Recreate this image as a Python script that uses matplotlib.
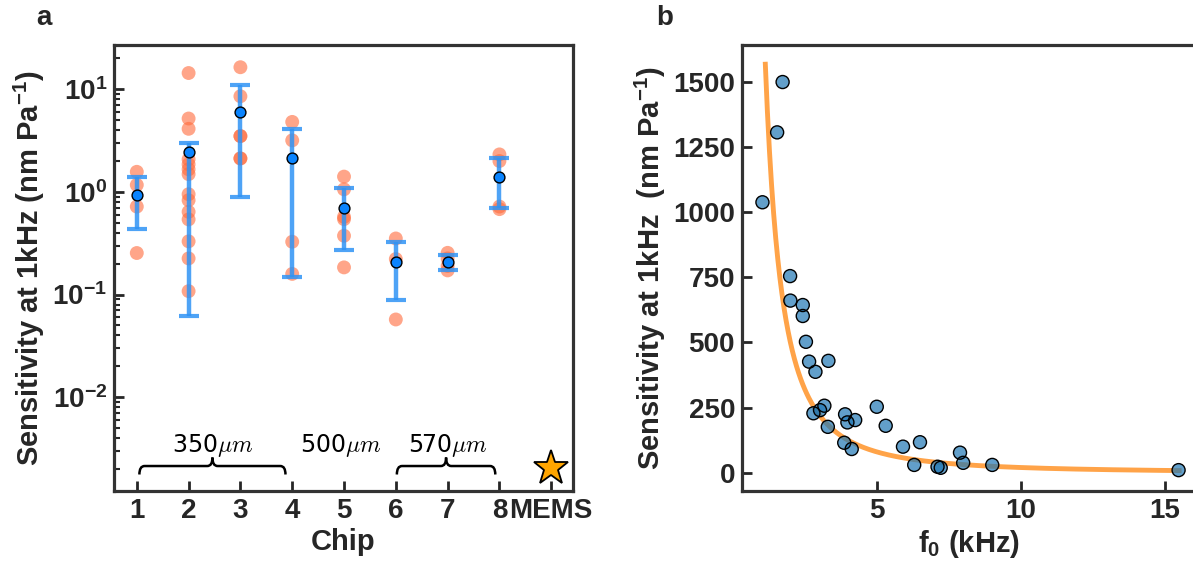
import matplotlib
matplotlib.use('Agg')
import matplotlib.pyplot as plt
from matplotlib.path import Path
from matplotlib.patches import PathPatch
import numpy as np

# ---- panel a: sensitivity per chip ----
chip_points = {
    1: [1.57, 1.17, 0.72, 0.254],
    2: [14.4, 5.19, 4.12, 2.08, 1.86, 1.66, 1.49, 0.95, 0.83, 0.64, 0.54, 0.33, 0.225, 0.108],
    3: [16.4, 8.55, 3.5, 3.5, 2.12, 2.12],
    4: [4.81, 3.18, 0.327, 0.159],
    5: [1.41, 1.06, 0.572, 0.543, 0.374, 0.184],
    6: [0.352, 0.222, 0.0572],
    7: [0.255, 0.225, 0.19, 0.172],
    8: [2.32, 2.0, 0.72, 0.68],
}
chips = [1, 2, 3, 4, 5, 6, 7, 8]
chip_mean = [0.93, 2.46, 6.02, 2.12, 0.69, 0.209, 0.209, 1.40]
err_low = [0.434, 0.0615, 0.887, 0.149, 0.273, 0.089, 0.174, 0.69]
err_high = [1.41, 2.99, 11.1, 4.09, 1.10, 0.327, 0.243, 2.12]
mems_x = 9
mems_value = 0.00204
xtick_labels = ['1', '2', '3', '4', '5', '6', '7', '8', 'MEMS']

# ---- panel b: sensitivity vs resonance frequency ----
f0 = [1.73, 1.54, 1.03, 1.99, 2.0, 2.43, 2.43, 2.54, 2.65, 2.87, 3.32, 3.18,
      3.03, 2.80, 3.30, 3.90, 3.98, 4.25, 3.87, 4.13, 5.0, 5.31, 5.91, 6.50,
      6.30, 7.11, 7.22, 7.89, 8.00, 9.01, 15.48]
sens = [1498, 1305, 1037, 754, 660, 643, 601, 502, 426, 387, 429, 257,
        240, 228, 176, 224, 193, 202, 115, 91, 253, 180, 100, 117,
        30, 23, 19, 77, 38, 30, 10]
fit_coef = 2000.0   # S = fit_coef / f0**fit_exp
fit_exp = 2.0
fit_range = (1.13, 15.5)

dark = '#262626'
plt.rcParams['font.family'] = ['Liberation Sans', 'DejaVu Sans']
plt.rcParams['font.weight'] = 'bold'
plt.rcParams['font.size'] = 20
plt.rcParams['mathtext.default'] = 'regular'
plt.rcParams['text.color'] = dark
plt.rcParams['axes.labelcolor'] = dark
plt.rcParams['axes.labelweight'] = 'bold'
plt.rcParams['xtick.color'] = dark
plt.rcParams['ytick.color'] = dark

fig = plt.figure(figsize=(11.93, 5.65), dpi=100)
W, H = 1193., 565.
ax1 = fig.add_axes([114 / W, (H - 491) / H, 459 / W, 446 / H])
ax2 = fig.add_axes([742 / W, (H - 491) / H, 453 / W, 446 / H])

for ax in (ax1, ax2):
    for sp in ax.spines.values():
        sp.set_linewidth(2.3)
        sp.set_color('#333333')
    ax.tick_params(which='major', direction='in', length=7.5, width=2, labelsize=20, pad=5)
    ax.tick_params(which='minor', direction='in', length=4.5, width=1.5)

# panel a
for c in chips:
    pts = chip_points[c]
    ax1.scatter([c] * len(pts), pts, s=100, color='#FF6A3A', alpha=0.6,
                edgecolors='none', zorder=1)
yerr = [np.array(chip_mean) - np.array(err_low), np.array(err_high) - np.array(chip_mean)]
ax1.errorbar(chips, chip_mean, yerr=yerr, fmt='none', ecolor='#2F93F5', alpha=0.85,
             elinewidth=3.2, capsize=7, capthick=3, zorder=2)
ax1.plot(chips, chip_mean, 'o', ms=7.8, color='#0A84FF', mec='black', mew=1.0,
         ls='none', zorder=3)
ax1.plot([mems_x], [mems_value], '*', ms=26, color='#FFA500', mec='black', mew=1.3,
         zorder=3, clip_on=False)

ax1.set_yscale('log')
ax1.set_ylim(0.00122, 27)
ax1.set_xlim(0.56, 9.42)
ax1.set_xticks(chips + [mems_x])
ax1.set_xticklabels(xtick_labels)
ax1.set_xlabel('Chip', fontsize=21, labelpad=3)
ax1.set_ylabel('Sensitivity at 1kHz (nm Pa$^{-1}$)', fontsize=21, labelpad=4)

# thickness braces
trans = ax1.get_xaxis_transform()


def brace(x0, x1, yb=0.037, yh=0.056, yt=0.075, d=0.1):
    xm = (x0 + x1) / 2
    verts = [(x0, yb), (x0, yh), (x0 + d, yh),
             (xm - d, yh), (xm, yh), (xm, yt),
             (xm, yh), (xm + d, yh),
             (x1 - d, yh), (x1, yh), (x1, yb)]
    codes = [Path.MOVETO, Path.CURVE3, Path.CURVE3,
             Path.LINETO, Path.CURVE3, Path.CURVE3,
             Path.CURVE3, Path.CURVE3,
             Path.LINETO, Path.CURVE3, Path.CURVE3]
    ax1.add_patch(PathPatch(Path(verts, codes), fill=False, lw=1.8,
                            edgecolor='black', transform=trans))


brace(1.05, 3.87)
brace(6.02, 7.92)
for xt, lab in [(2.46, '350$\\mathit{\\mu m}$'), (4.94, '500$\\mathit{\\mu m}$'),
                (7.0, '570$\\mathit{\\mu m}$')]:
    ax1.text(xt, 0.103, lab, transform=trans, ha='center', va='center',
             fontsize=17, fontweight='normal', color='black',
             family='DejaVu Sans', math_fontfamily='cm')

# panel b
fx = np.linspace(fit_range[0], fit_range[1], 400)
ax2.plot(fx, fit_coef / fx ** fit_exp, color='#FF8C1A', lw=3.5, alpha=0.8, zorder=1)
ax2.scatter(f0, sens, s=88, color='#1f77b4', alpha=0.7, edgecolors='none', zorder=2)
ax2.scatter(f0, sens, s=88, facecolors='none', edgecolors='black',
            linewidths=1.0, zorder=3)
ax2.set_xlim(0.32, 16.05)
ax2.set_ylim(-70, 1640)
ax2.set_xticks([5, 10, 15])
ax2.set_yticks([0, 250, 500, 750, 1000, 1250, 1500])
ax2.set_xlabel('f$_0$ (kHz)', fontsize=21, labelpad=3)
ax2.set_ylabel('Sensitivity at 1kHz  (nm Pa$^{-1}$)', fontsize=21, labelpad=4)

fig.text(44 / W, 1 - 18 / H, 'a', fontsize=20, fontweight='bold', ha='center', va='center')
fig.text(665 / W, 1 - 18 / H, 'b', fontsize=20, fontweight='bold', ha='center', va='center')

fig.savefig('out.png', dpi=100)
